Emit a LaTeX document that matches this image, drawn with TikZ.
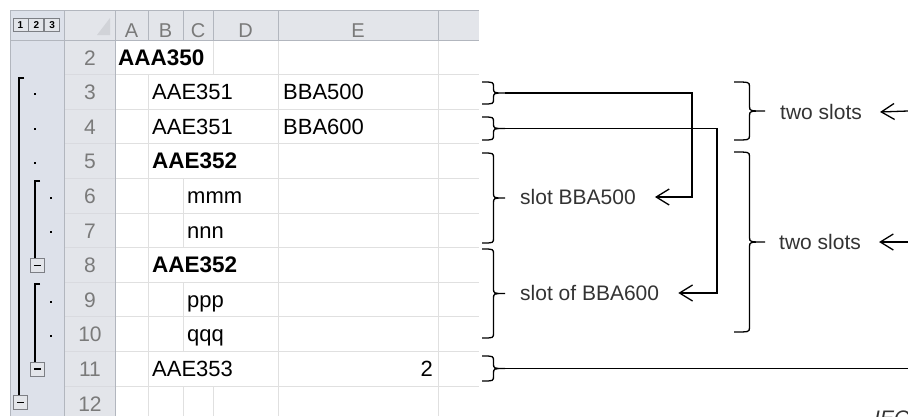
\documentclass[tikz,border=0pt]{standalone}
\usepackage{fontspec}
\setmainfont{Liberation Sans}
\usepackage{tikz}
\usetikzlibrary{arrows.meta}

\definecolor{panelblue}{HTML}{DDE1EA}
\definecolor{hdrgray}{HTML}{E3E5EA}
\definecolor{hdrline}{HTML}{B2B6BE}
\definecolor{gridgray}{HTML}{E0E0E0}
\definecolor{hdrtext}{HTML}{7A7A7A}
\definecolor{notegray}{HTML}{333333}

% right brace from (#1,#2) down to (#1,#3), #4 wide, tip named #5
\newcommand{\slotbrace}[5]{%
  \draw[bracepen] (#1,#2) .. controls ({#1+0.5*#4},#2) .. ({#1+0.5*#4},{#2+5})
    -- ({#1+0.5*#4},{0.5*(#2+#3)-5}) .. controls ({#1+0.5*#4},{0.5*(#2+#3)}) .. ({#1+#4},{0.5*(#2+#3)})
    .. controls ({#1+0.5*#4},{0.5*(#2+#3)}) .. ({#1+0.5*#4},{0.5*(#2+#3)+5})
    -- ({#1+0.5*#4},{#3-5}) .. controls ({#1+0.5*#4},#3) .. (#1,#3);
  \coordinate (#5) at ({#1+#4},{0.5*(#2+#3)});
}

\begin{document}
\begin{tikzpicture}[x=1pt, y=-1pt,
    cell/.style={anchor=base west, inner sep=0pt, font=\fontsize{22}{26}\selectfont},
    bcell/.style={cell, font=\fontsize{22.5}{26}\selectfont\bfseries},
    rownum/.style={anchor=base, inner sep=0pt, text=hdrtext, font=\fontsize{21}{24}\selectfont},
    colname/.style={rownum, font=\fontsize{20}{24}\selectfont},
    note/.style={anchor=west, inner sep=0pt, text=notegray, font=\fontsize{21}{24}\selectfont},
    gridpen/.style={draw=gridgray, line width=1pt},
    hdrpen/.style={draw=hdrline, line width=1pt},
    outline/.style={line width=2pt, black},
    levelbox/.style={draw=hdrline!70!black, fill=hdrgray, line width=0.8pt, minimum width=15pt,
      minimum height=13pt, inner sep=0pt, font=\fontsize{10}{11}\selectfont\bfseries},
    minusbox/.style={draw=hdrline!70!black, fill=hdrgray, line width=0.8pt, minimum size=14pt, inner sep=0pt},
    bracepen/.style={line width=1.3pt, black},
    link/.style={line width=1.3pt, black},
    arr/.style={link, -{Straight Barb[length=13pt, width=16pt]}}]

    \useasboundingbox (0,0) rectangle (908,416);
    \clip (0,0) rectangle (908,416);

    % sheet frame
    \fill[panelblue] (10,10) rectangle (64,416);
    \fill[hdrgray] (64,10) rectangle (479,40);
    \fill[hdrgray] (64,40) rectangle (115,416);
    \fill[hdrline!60] (97,35) -- (110,35) -- (110,18) -- cycle;

    % grid
    \foreach \i in {3,...,12} {
        \pgfmathsetmacro\t{40+(\i-2)*34.6}
        \draw[hdrpen, draw=hdrline!50] (64,\t) -- (115,\t);
        \draw[gridpen] (115,\t) -- (479,\t);
    }
    \draw[gridpen] (148,74.6) -- (148,416);
    \draw[gridpen] (183,178.4) -- (183,247.6);
    \draw[gridpen] (183,282.2) -- (183,351.4);
    \draw[gridpen] (183,386) -- (183,416);
    \draw[gridpen] (213,40) -- (213,74.6);
    \draw[gridpen] (213,386) -- (213,416);
    \draw[gridpen] (278,40) -- (278,416);
    \draw[gridpen] (438,40) -- (438,416);

    \draw[hdrpen] (10,10) -- (479,10);
    \draw[hdrpen] (10,40) -- (479,40);
    \draw[hdrpen] (10,10) -- (10,416);
    \draw[hdrpen] (64,10) -- (64,416);
    \draw[hdrpen] (115,10) -- (115,416);
    \draw[hdrpen] (148,10) -- (148,40);
    \draw[hdrpen] (183,10) -- (183,40);
    \draw[hdrpen] (213,10) -- (213,40);
    \draw[hdrpen] (278,10) -- (278,40);
    \draw[hdrpen] (438,10) -- (438,40);

    % column and row headings
    \node[colname] (colA) at (131.5,37) {A};
    \node[colname] (colB) at (165.5,37) {B};
    \node[colname] (colC) at (198,37) {C};
    \node[colname] (colD) at (245.5,37) {D};
    \node[colname] (colE) at (358,37) {E};
    \foreach \i in {2,...,12} {
        \node[rownum] (row\i) at (90,{65+(\i-2)*34.6}) {\i};
    }

    % cells
    \node[bcell] (aaa350) at (118,65) {AAA350};
    \node[cell] (aae351a) at (152,99.6) {AAE351};
    \node[cell] (bba500) at (283,99.6) {BBA500};
    \node[cell] (aae351b) at (152,134.2) {AAE351};
    \node[cell] (bba600) at (283,134.2) {BBA600};
    \node[bcell] (aae352a) at (152,168.8) {AAE352};
    \node[cell] (mmm) at (187,203.4) {mmm};
    \node[cell] (nnn) at (187,238) {nnn};
    \node[bcell] (aae352b) at (152,272.6) {AAE352};
    \node[cell] (ppp) at (187,307.2) {ppp};
    \node[cell] (qqq) at (187,341.8) {qqq};
    \node[cell] (aae353) at (152,376.4) {AAE353};
    \node[cell, anchor=base east] (two) at (433,376.4) {2};

    % outline levels
    \node[levelbox] (lv1) at (20.5,25) {1};
    \node[levelbox] (lv2) at (36.3,25) {2};
    \node[levelbox] (lv3) at (52.2,25) {3};

    \draw[outline] (24,78) -- (19,78) -- (19,396);
    \draw[outline] (40,181) -- (35,181) -- (35,258);
    \draw[outline] (40,284) -- (35,284) -- (35,362);

    \node[minusbox] (m8) at (37.5,265.5) {\rule{7pt}{1.6pt}};
    \node[minusbox] (m11) at (37.5,369) {\rule{7pt}{1.6pt}};
    \node[minusbox] (m12) at (20.5,402.5) {\rule{7pt}{1.6pt}};

    \fill (34,93) rectangle (36,95);
    \fill (34,127.6) rectangle (36,129.6);
    \fill (34,162.2) rectangle (36,164.2);
    \fill (50,196.8) rectangle (52,198.8);
    \fill (50,231.4) rectangle (52,233.4);
    \fill (50,300.6) rectangle (52,302.6);
    \fill (50,335.2) rectangle (52,337.2);

    % braces and slot labels
    \slotbrace{482}{82}{104}{23}{t3}
    \slotbrace{482}{117}{140}{23}{t4}
    \slotbrace{482}{153}{243}{23}{t57}
    \slotbrace{482}{249}{338}{23}{t810}
    \slotbrace{482}{356}{381}{23}{t11}
    \slotbrace{734}{82}{140}{31}{t34}
    \slotbrace{734}{152}{332}{31}{t510}

    \node[note] (s500) at (520,197) {slot BBA500};
    \node[note] (s600) at (520,293) {slot of BBA600};
    \node[note] (two1) at (780,112) {two slots};
    \node[note] (two2) at (779,242) {two slots};

    \draw[arr] (t3) -- ++(187,0) |- ([xshift=19pt]s500.east);
    \draw[arr] (t4) -- ++(212,0) |- ([xshift=19pt]s600.east);

    \coordinate (e34) at (908,111);
    \coordinate (e510) at (908,242);
    \coordinate (e11) at (908,368.5);
    \draw[arr] (e34) -- ([xshift=18pt]two1.east);
    \draw[arr] (e510) -- ([xshift=18pt]two2.east);
    \draw[link] (t11) -- (e11);

    \node[anchor=north west, inner sep=0pt, text=notegray, font=\fontsize{21}{24}\selectfont\itshape] (iec) at (874,410.5) {IEC};
\end{tikzpicture}
\end{document}
